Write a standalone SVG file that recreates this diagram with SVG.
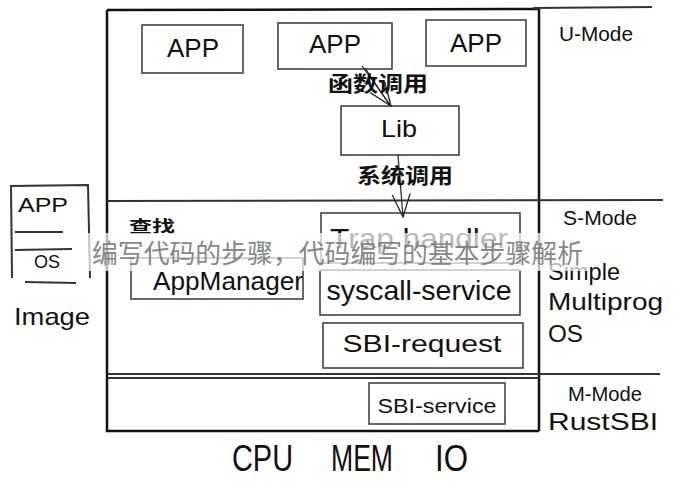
<svg xmlns="http://www.w3.org/2000/svg" width="674" height="490" viewBox="0 0 674 490">
<style>
.t{font-family:"Liberation Sans","Noto Sans CJK SC",sans-serif;fill:#111;}
.cjk{font-family:"Noto Sans CJK SC","Noto Sans CJK JP",sans-serif;fill:#111;font-weight:bold;}
text{lengthAdjust:spacingAndGlyphs;}
.box{fill:none;stroke:#444;stroke-width:1.6;}
.frame{fill:none;stroke:#111;stroke-width:2.5;}
.ln{fill:none;stroke:#333;stroke-width:2;}
.conn{fill:none;stroke:#222;stroke-width:1.2;}
</style>
<defs>
<marker id="arr" viewBox="0 0 24 20" refX="23" refY="10" markerWidth="24" markerHeight="20" markerUnits="userSpaceOnUse" orient="auto">
<path d="M0,1 L23,10 L0,19" fill="none" stroke="#222" stroke-width="1.3"/>
</marker>
</defs>
<rect width="674" height="490" fill="#fff"/>
<g id="frame">
<path class="frame" d="M107,10 L107,431 L539,431"/>
<path class="frame" d="M107,10 L539,9 L539,431"/>
<path class="ln" d="M533,8 L652,7" stroke="#777"/>
<path class="ln" d="M107,201 L663,200"/>
<path class="ln" d="M107,374 L660,374"/>
<path class="ln" d="M107,378 L539,378" stroke-width="1.2"/>
</g>
<g id="app1"><rect class="box" x="142" y="25" width="101" height="48"/><text class="t" x="193" y="57" font-size="26" text-anchor="middle" textLength="52" lengthAdjust="spacingAndGlyphs">APP</text></g>
<g id="app2"><rect class="box" x="278" y="23" width="114" height="46"/><text class="t" x="335" y="53" font-size="26" text-anchor="middle" textLength="52" lengthAdjust="spacingAndGlyphs">APP</text></g>
<g id="app3"><rect class="box" x="426" y="20" width="100" height="46"/><text class="t" x="476" y="52" font-size="26" text-anchor="middle" textLength="52" lengthAdjust="spacingAndGlyphs">APP</text></g>
<g id="umode"><text class="t" x="596" y="41" font-size="21" text-anchor="middle" textLength="74" lengthAdjust="spacingAndGlyphs">U-Mode</text></g>
<g id="lib"><rect class="box" x="341" y="106" width="118" height="49"/><text class="t" x="399" y="137" font-size="24" text-anchor="middle" textLength="36" lengthAdjust="spacingAndGlyphs">Lib</text></g>
<g id="trap"><rect class="box" x="321" y="213" width="199" height="50"/><text class="t" x="419" y="248" font-size="27" text-anchor="middle" textLength="178" lengthAdjust="spacingAndGlyphs">Trap handler</text></g>
<g id="syscall"><rect class="box" x="320" y="270" width="200" height="45"/><text class="t" x="419" y="300" font-size="28" text-anchor="middle" textLength="185" lengthAdjust="spacingAndGlyphs">syscall-service</text></g>
<g id="sbireq"><rect class="box" x="323" y="323" width="200" height="45"/><text class="t" x="422" y="352" font-size="24" text-anchor="middle" textLength="159" lengthAdjust="spacingAndGlyphs">SBI-request</text></g>
<g id="appmgr"><rect class="box" x="131" y="258" width="172" height="41"/><text class="t" x="228" y="290" font-size="25" text-anchor="middle" textLength="150" lengthAdjust="spacingAndGlyphs">AppManager</text></g>
<g id="smode"><text class="t" x="600" y="225" font-size="21" text-anchor="middle" textLength="74" lengthAdjust="spacingAndGlyphs">S-Mode</text>
<text class="t" x="548" y="280" font-size="24" textLength="72" lengthAdjust="spacingAndGlyphs">Simple</text>
<text class="t" x="548" y="310" font-size="24" textLength="115" lengthAdjust="spacingAndGlyphs">Multiprog</text>
<text class="t" x="548" y="342" font-size="24" textLength="35" lengthAdjust="spacingAndGlyphs">OS</text></g>
<g id="sbiservice"><rect class="box" x="369" y="383" width="136" height="41"/><text class="t" x="437" y="413" font-size="21" text-anchor="middle" textLength="119" lengthAdjust="spacingAndGlyphs">SBI-service</text></g>
<g id="mmode"><text class="t" x="605" y="401" font-size="21" text-anchor="middle" textLength="74" lengthAdjust="spacingAndGlyphs">M-Mode</text>
<text class="t" x="603" y="430" font-size="24" text-anchor="middle" textLength="110" lengthAdjust="spacingAndGlyphs">RustSBI</text></g>
<g id="hw"><text class="t" x="232" y="471" font-size="36" textLength="61" lengthAdjust="spacingAndGlyphs">CPU</text>
<text class="t" x="331" y="471" font-size="36" textLength="62" lengthAdjust="spacingAndGlyphs">MEM</text>
<text class="t" x="435" y="471" font-size="36" textLength="33" lengthAdjust="spacingAndGlyphs">IO</text></g>
<g id="image">
<path class="ln" d="M11,187 L12,278" stroke-width="3.5" stroke="#111"/>
<path class="ln" d="M10,186 L88,185 L90,278" stroke-width="3" stroke="#111"/>
<text class="t" x="43" y="212" font-size="21" text-anchor="middle" textLength="50" lengthAdjust="spacingAndGlyphs">APP</text>
<path class="ln" d="M15,232 L63,232" stroke-width="2.5"/>
<path class="ln" d="M15,250 L72,249" stroke-width="2.2" stroke="#555"/>
<text class="t" x="47" y="268" font-size="18" text-anchor="middle" textLength="26" lengthAdjust="spacingAndGlyphs" fill="#333">OS</text>
<path class="ln" d="M25,282 L76,283" stroke-width="2.5"/>
<text class="t" x="52" y="325" font-size="24" text-anchor="middle" textLength="76" lengthAdjust="spacingAndGlyphs">Image</text>
</g>
<g id="connectors">
<path class="conn" d="M362,66 L391,106" marker-end="url(#arr)"/>
<path class="conn" d="M365,68 L389,104" stroke="#555"/>
<path class="conn" d="M398,155 L403,217" marker-end="url(#arr)"/>
</g>
<g id="labels">
<text class="cjk" x="378" y="91" font-size="21" text-anchor="middle" textLength="100" lengthAdjust="spacingAndGlyphs">函数调用</text>
<text class="cjk" x="405" y="183" font-size="21" text-anchor="middle" textLength="96" lengthAdjust="spacingAndGlyphs">系统调用</text>
<text class="cjk" x="152" y="232" font-size="16" text-anchor="middle" textLength="46" lengthAdjust="spacingAndGlyphs">查找</text>
</g>
<g id="watermark">
<rect x="84" y="233" width="504" height="38" fill="#fff" fill-opacity="0.7"/>
<text x="92" y="263" font-size="26" textLength="491" lengthAdjust="spacingAndGlyphs" fill="#777" fill-opacity="0.9" font-family="Noto Sans CJK SC, sans-serif">编写代码的步骤，代码编写的基本步骤解析</text>
</g>
</svg>
